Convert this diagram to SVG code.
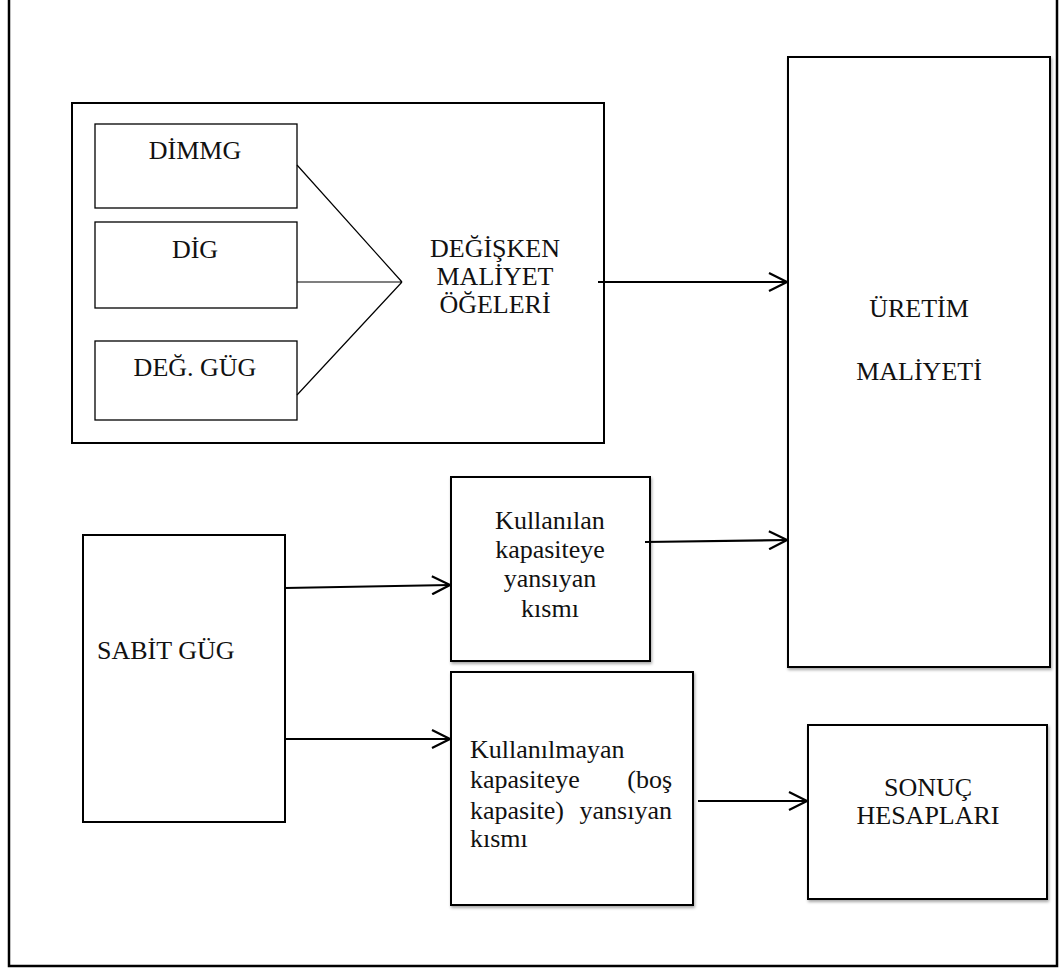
<svg xmlns="http://www.w3.org/2000/svg" width="1061" height="969" viewBox="0 0 1061 969">
<style>
text{font-family:"Liberation Serif","Times New Roman",serif;font-size:26px;fill:#111}
.c{text-anchor:middle}
.box{fill:#fff;stroke:#000;stroke-width:2}
.sbox{fill:#fff;stroke:#000;stroke-width:1.3}
.ln{fill:none;stroke:#000;stroke-width:1.2}
.ar{fill:none;stroke:#000;stroke-width:2.2}
</style>
<defs>
<filter id="sh" x="-5%" y="-5%" width="115%" height="115%">
<feDropShadow dx="1" dy="2" stdDeviation="1.5" flood-color="#000" flood-opacity="0.35"/>
</filter>
<marker id="arr" viewBox="0 0 20 20" refX="19" refY="10" markerWidth="20" markerHeight="20" markerUnits="userSpaceOnUse" orient="auto">
<path d="M1,1 L19,10 L1,19" fill="none" stroke="#000" stroke-width="2.2"/>
</marker>
</defs>
<rect width="1061" height="969" fill="#fff"/>
<rect x="9" y="-10" width="1048" height="976" fill="none" stroke="#000" stroke-width="2.5"/>

<g id="uretim">
<rect class="box" x="788" y="57" width="262" height="610" filter="url(#sh)"/>
<text class="c" x="919" y="317">ÜRETİM</text>
<text class="c" x="919" y="380">MALİYETİ</text>
</g>

<g id="degisken">
<rect class="box" x="72" y="103" width="532" height="340"/>
<text class="c" x="495" y="257">DEĞİŞKEN</text>
<text class="c" x="495" y="285">MALİYET</text>
<text class="c" x="495" y="313">ÖĞELERİ</text>
</g>

<g id="dimmg">
<rect class="sbox" x="95" y="124" width="202" height="84"/>
<text class="c" x="195" y="159">DİMMG</text>
</g>
<g id="dig">
<rect class="sbox" x="95" y="222" width="202" height="86"/>
<text class="c" x="195" y="258">DİG</text>
</g>
<g id="degGug">
<rect class="sbox" x="95" y="341" width="202" height="79"/>
<text class="c" x="195" y="376">DEĞ. GÜG</text>
</g>

<g id="kullanilan">
<rect class="box" x="451" y="477" width="199" height="184" filter="url(#sh)"/>
<text class="c" x="550" y="529">Kullanılan</text>
<text class="c" x="550" y="558">kapasiteye</text>
<text class="c" x="550" y="587">yansıyan</text>
<text class="c" x="550" y="617">kısmı</text>
</g>

<g id="sabit">
<rect class="box" x="83" y="535" width="202" height="287"/>
<text x="97" y="659">SABİT GÜG</text>
</g>

<g id="kullanilmayan">
<rect class="box" x="451" y="672" width="242" height="233" filter="url(#sh)"/>
<text x="470" y="758">Kullanılmayan</text>
<text x="470" y="788">kapasiteye</text>
<text x="672" y="788" text-anchor="end">(boş</text>
<text x="470" y="819">kapasite)</text>
<text x="672" y="819" text-anchor="end">yansıyan</text>
<text x="470" y="847">kısmı</text>
</g>

<g id="sonuc">
<rect class="box" x="808" y="725" width="239" height="174" filter="url(#sh)"/>
<text class="c" x="928" y="796">SONUÇ</text>
<text class="c" x="928" y="824">HESAPLARI</text>
</g>

<g id="connectors">
<path class="ln" d="M297,165 L402,282 M297,282 L402,282 M297,395 L402,282"/>
<path class="ar" d="M598,282 L787,282" marker-end="url(#arr)"/>
<path class="ar" d="M285,588 L450,585" marker-end="url(#arr)"/>
<path class="ar" d="M645,542 L787,540" marker-end="url(#arr)"/>
<path class="ar" d="M285,739 L450,739" marker-end="url(#arr)"/>
<path class="ar" d="M698,801 L807,801" marker-end="url(#arr)"/>
</g>
</svg>
